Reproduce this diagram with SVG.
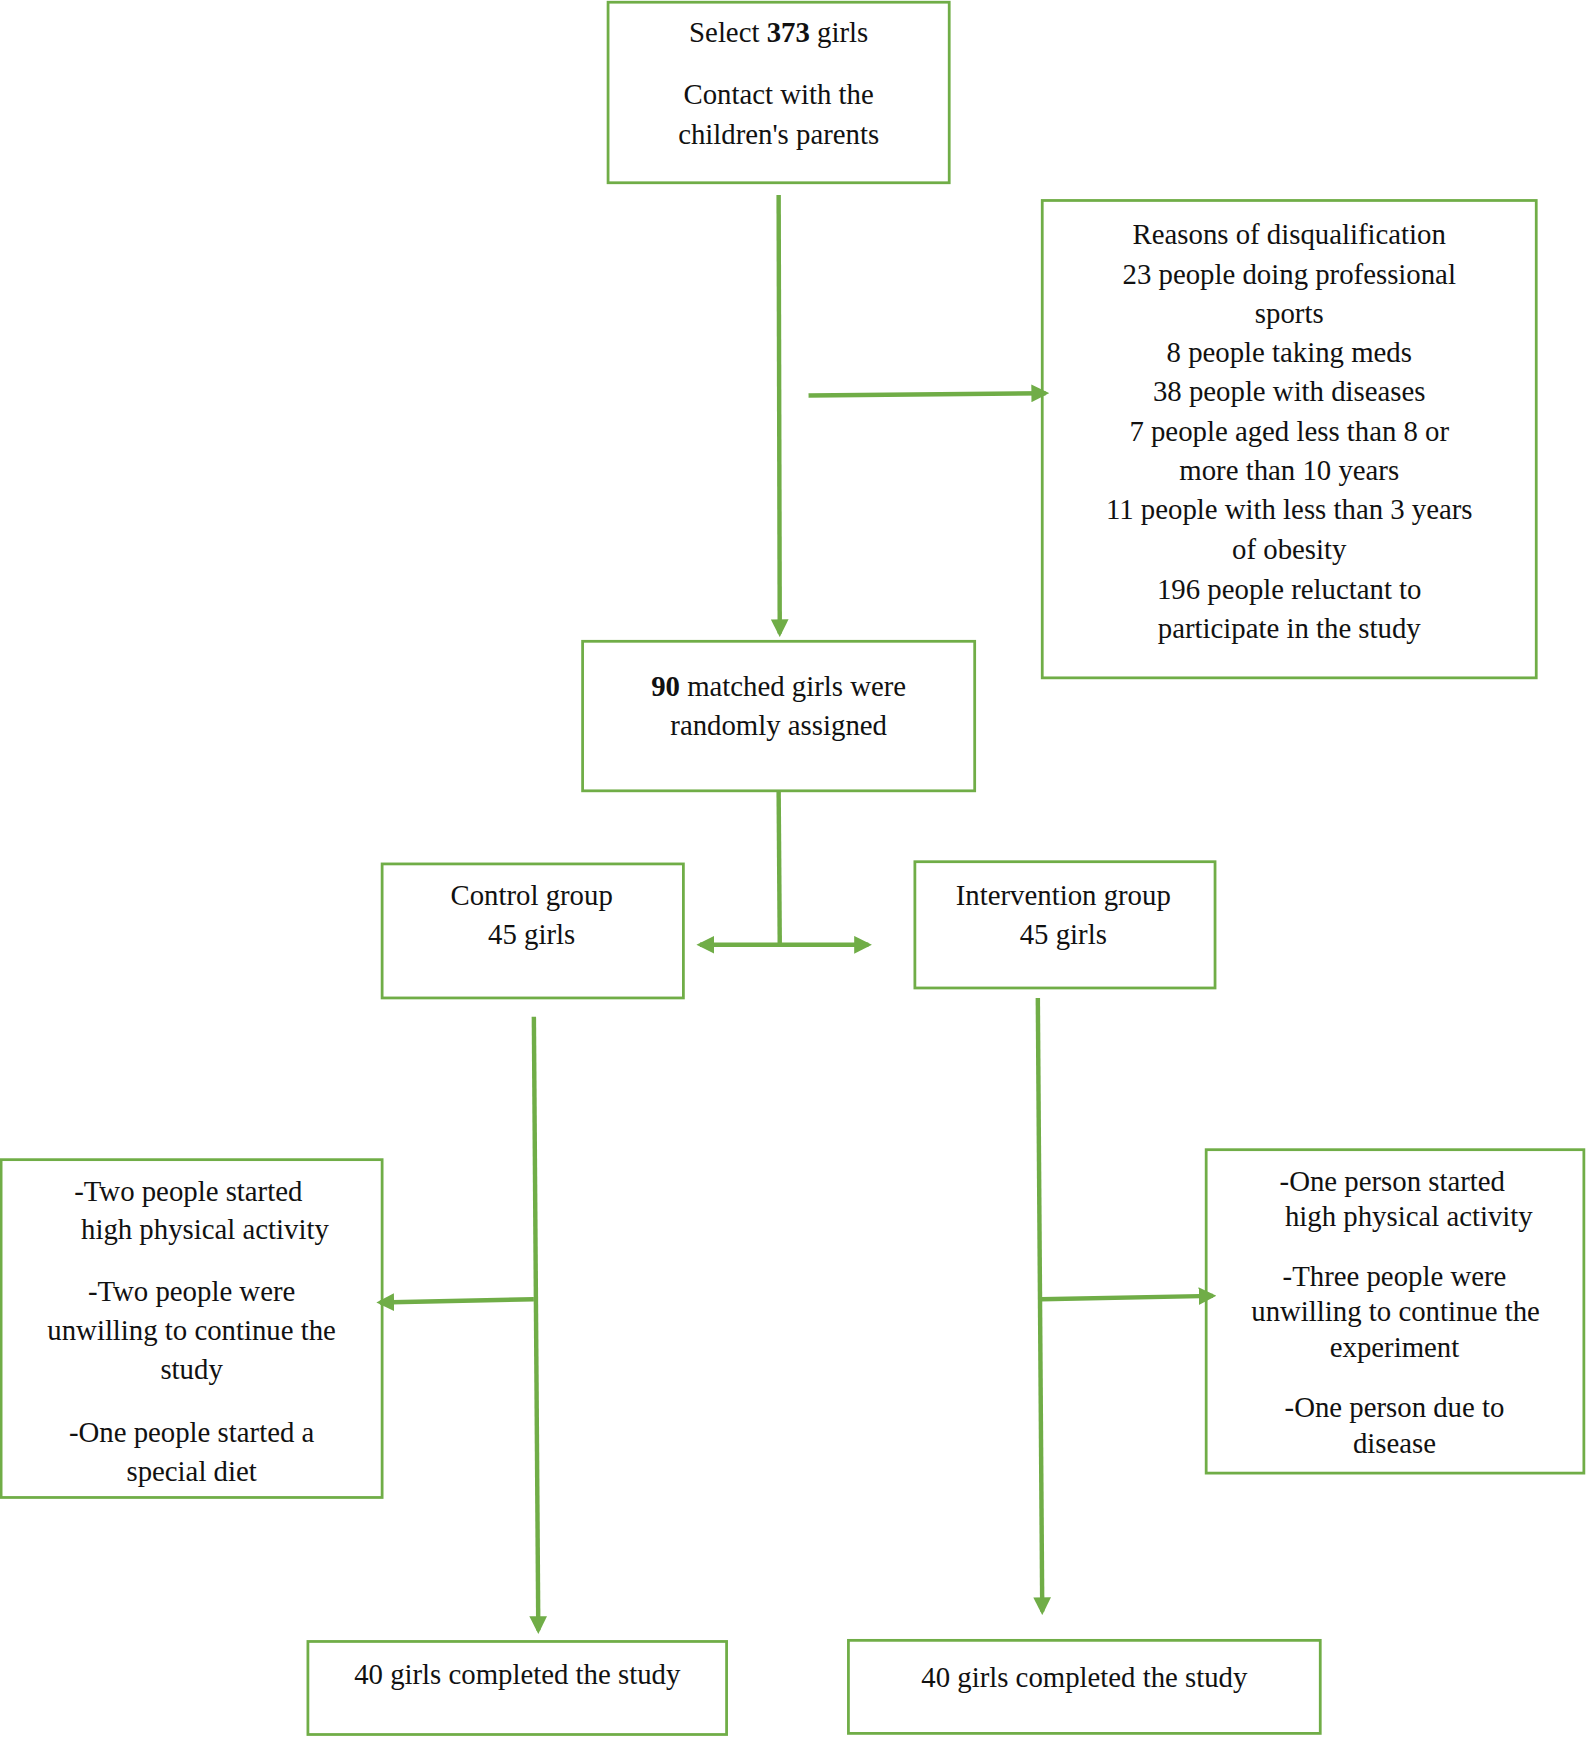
<svg xmlns="http://www.w3.org/2000/svg" width="1586" height="1737" viewBox="0 0 1586 1737">
<style>
rect{fill:#fff;stroke:#70AD47;stroke-width:2.5}
text{font-family:"Liberation Serif","Times New Roman",serif;font-size:26px;fill:#111;text-anchor:middle}
.c line{stroke:#70AD47;stroke-width:4}
</style>
<defs><marker id="a" viewBox="0 0 10 10" refX="8" refY="5" markerWidth="4" markerHeight="4" orient="auto-start-reverse"><path d="M0,0L10,5L0,10z" fill="#70AD47"/></marker></defs>
<rect width="1586" height="1737" style="stroke:none"/>
<g transform="scale(1.1076)">
<g id="n1"><rect x="549" y="2" width="308" height="163"/><text x="703" y="38">Select <tspan font-weight="bold">373</tspan> girls</text><text x="703" y="94">Contact with the</text><text x="703" y="130">children's parents</text></g>
<g id="n2"><rect x="941" y="181" width="446" height="431"/>
<text x="1164" y="220">Reasons of disqualification</text><text x="1164" y="256">23 people doing professional</text><text x="1164" y="292">sports</text><text x="1164" y="327">8 people taking meds</text><text x="1164" y="362">38 people with diseases</text><text x="1164" y="398">7 people aged less than  8 or</text><text x="1164" y="433">more than 10 years</text><text x="1164" y="469">11 people with less than  3 years</text><text x="1164" y="505">of obesity</text><text x="1164" y="541">196 people reluctant to</text><text x="1164" y="576">participate in the study</text></g>
<g id="n3"><rect x="526" y="579" width="354" height="135"/><text x="703" y="628"><tspan font-weight="bold">90</tspan> matched girls were</text><text x="703" y="664">randomly  assigned</text></g>
<g id="n4"><rect x="345" y="780" width="272" height="121"/><text x="480" y="817">Control group</text><text x="480" y="852">45 girls</text></g>
<g id="n5"><rect x="826" y="778" width="271" height="114"/><text x="960" y="817">Intervention group</text><text x="960" y="852">45 girls</text></g>
<g id="n6"><rect x="1" y="1047" width="344" height="305"/>
<text x="170" y="1084">-Two people started</text><text x="185" y="1119">high physical activity</text><text x="173" y="1175">-Two people  were</text><text x="173" y="1210">unwilling to continue  the</text><text x="173" y="1245">study</text><text x="173" y="1302">-One people started  a</text><text x="173" y="1337">special diet</text></g>
<g id="n7"><rect x="1089" y="1038" width="341" height="292"/>
<text x="1257" y="1075">-One person started</text><text x="1272" y="1107">high physical activity</text><text x="1259" y="1161">-Three people  were</text><text x="1260" y="1193">unwilling to continue  the</text><text x="1259" y="1225">experiment</text><text x="1259" y="1279">-One person  due to</text><text x="1259" y="1312">disease</text></g>
<g id="n8"><rect x="278" y="1482" width="378" height="84"/><text x="467" y="1520">40 girls completed the  study</text></g>
<g id="n9"><rect x="766" y="1481" width="426" height="84"/><text x="979" y="1523">40 girls completed the  study</text></g>
<g class="c">
<line x1="703" y1="176" x2="704" y2="572" marker-end="url(#a)"/>
<line x1="730" y1="357" x2="944" y2="355" marker-end="url(#a)"/>
<line x1="703" y1="715" x2="704" y2="852"/>
<line x1="632" y1="853" x2="784" y2="853" marker-start="url(#a)" marker-end="url(#a)"/>
<line x1="482" y1="918" x2="486" y2="1472" marker-end="url(#a)"/>
<line x1="482" y1="1173" x2="343" y2="1176" marker-end="url(#a)"/>
<line x1="937" y1="901" x2="941" y2="1455" marker-end="url(#a)"/>
<line x1="940" y1="1173" x2="1095" y2="1170" marker-end="url(#a)"/>
</g>
</g>
</svg>
